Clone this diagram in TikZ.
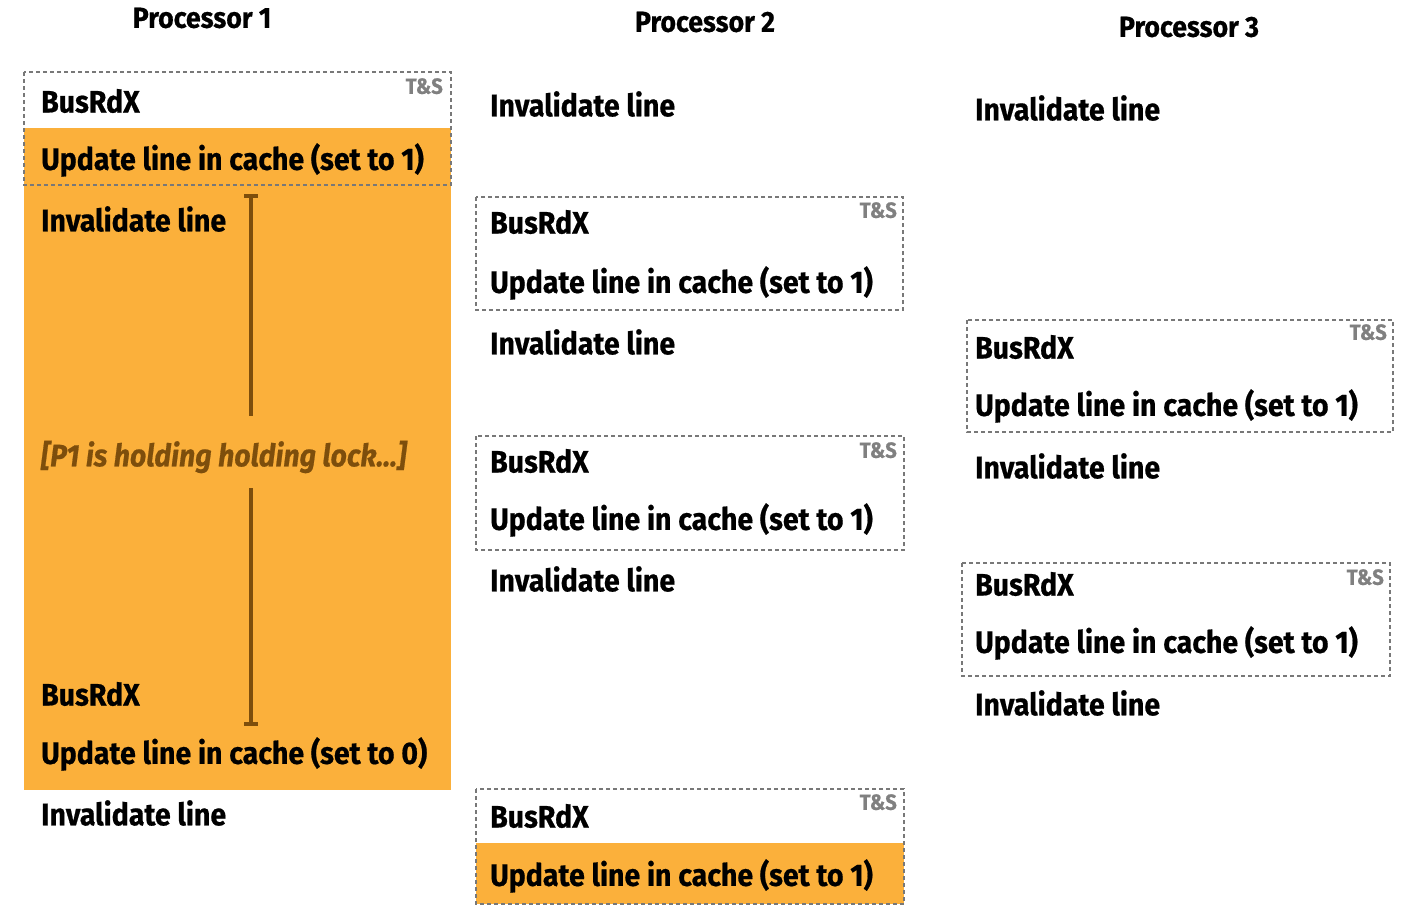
\documentclass[tikz,border=0pt]{standalone}
\usepackage{fontspec}
\setmainfont{Fira Sans}[FakeStretch=0.92,BoldFeatures={FakeBold=0.6},BoldItalicFeatures={FakeBold=0.6}]
\definecolor{lockorange}{RGB}{251,176,59}
\definecolor{lockbrown}{RGB}{125,78,12}
\definecolor{dashgrey}{RGB}{120,120,120}
\definecolor{tsgrey}{RGB}{128,128,128}
\begin{document}
\begin{tikzpicture}[x=1pt,y=-1pt,
  txt/.style={anchor=west,inner sep=0pt,font=\fontsize{31}{31}\selectfont\bfseries},
  ttl/.style={anchor=center,inner sep=0pt,font=\fontsize{29}{29}\selectfont\bfseries},
  ts/.style={anchor=north east,inner sep=0pt,text=tsgrey,font=\fontsize{22}{22}\selectfont\bfseries},
  tsbox/.style={draw=dashgrey,dashed,line width=1.5pt,dash pattern=on 4pt off 3pt},
  hold/.style={draw=lockbrown,line width=4pt},
  note/.style={anchor=west,inner sep=0pt,text=lockbrown,font=\fontsize{31}{31}\selectfont\bfseries\itshape}]
\useasboundingbox (0,0) rectangle (1425,905);
% fills
\fill[lockorange] (24,128) rectangle (451,790);
\fill[lockorange] (476,843) rectangle (904,904);
% titles
\node[ttl] (t1) at (202,18) {Processor 1};
\node[ttl] (t2) at (705,22) {Processor 2};
\node[ttl] (t3) at (1189,27) {Processor 3};
% P1
\draw[tsbox] (24,72) rectangle (451,185);
\node[ts] (ts1) at (443,78) {T\&S};
\node[txt] (a1) at (41,101) {BusRdX};
\node[txt] (a2) at (41,160) {Update line in cache (set to 1)};
\node[txt] (a3) at (41,219) {Invalidate line};
\node[note] (a4) at (41,457) {[P1 is holding holding lock...]};
\node[txt] (a5) at (41,694) {BusRdX};
\node[txt] (a6) at (41,754) {Update line in cache (set to 0)};
\node[txt] (a7) at (41,813) {Invalidate line};
\coordinate (h1) at (251,196);
\coordinate (h2) at (251,416);
\coordinate (h3) at (251,488);
\coordinate (h4) at (251,724);
\draw[hold] (h1) -- (h2);
\draw[hold] (h3) -- (h4);
\draw[hold] ([xshift=-7pt]h1) -- ([xshift=7pt]h1);
\draw[hold] ([xshift=-7pt]h4) -- ([xshift=7pt]h4);
% P2
\node[txt] (b1) at (490,104) {Invalidate line};
\draw[tsbox] (476,197) rectangle (903,310);
\node[ts] (ts2) at (897,202) {T\&S};
\node[txt] (b2) at (490,222) {BusRdX};
\node[txt] (b3) at (490,283) {Update line in cache (set to 1)};
\node[txt] (b4) at (490,342) {Invalidate line};
\draw[tsbox] (476,436) rectangle (904,550);
\node[ts] (ts3) at (897,442) {T\&S};
\node[txt] (b5) at (490,461) {BusRdX};
\node[txt] (b6) at (490,520) {Update line in cache (set to 1)};
\node[txt] (b7) at (490,579) {Invalidate line};
\draw[tsbox] (476,789) rectangle (904,904);
\node[ts] (ts4) at (897,794) {T\&S};
\node[txt] (b8) at (490,816) {BusRdX};
\node[txt] (b9) at (490,876) {Update line in cache (set to 1)};
% P3
\node[txt] (c1) at (975,108) {Invalidate line};
\draw[tsbox] (967,320) rectangle (1393,432);
\node[ts] (ts5) at (1387,324) {T\&S};
\node[txt] (c2) at (975,347) {BusRdX};
\node[txt] (c3) at (975,406) {Update line in cache (set to 1)};
\node[txt] (c4) at (975,466) {Invalidate line};
\draw[tsbox] (962,563) rectangle (1390,676);
\node[ts] (ts6) at (1384,569) {T\&S};
\node[txt] (c5) at (975,584) {BusRdX};
\node[txt] (c6) at (975,643) {Update line in cache (set to 1)};
\node[txt] (c7) at (975,703) {Invalidate line};
\end{tikzpicture}
\end{document}
